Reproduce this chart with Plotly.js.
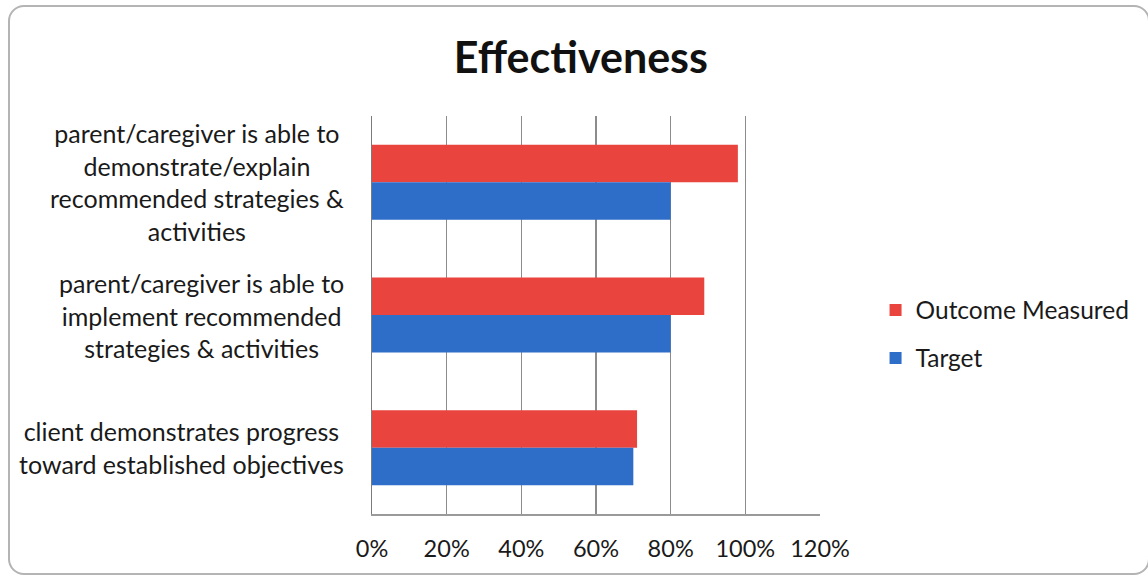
<!DOCTYPE html>
<html>
<head>
<meta charset="utf-8">
<script src="https://cdn.plot.ly/plotly-3.0.1.min.js"></script>
<style>
  html, body { margin: 0; padding: 0; background: #ffffff; }
  #chart { width: 1148px; height: 577px; }
  #frame {
    position: absolute; left: 8px; top: 5px; width: 1138px; height: 566px;
    border: 2px solid #b4b4b4; border-radius: 16px; pointer-events: none;
  }
</style>
</head>
<body>
<div id="chart"></div>
<div id="frame"></div>
<script>
// Survey categories, listed top to bottom
const categories = [
  "parent/caregiver is able to<br>demonstrate/explain<br>recommended strategies &amp;<br>activities",
  "parent/caregiver is able to<br>implement recommended<br>strategies &amp; activities",
  "client demonstrates progress<br>toward established objectives"
];
const outcomeMeasured = [0.98, 0.89, 0.71];
const target = [0.80, 0.80, 0.70];
const xTicks = [0, 0.2, 0.4, 0.6, 0.8, 1.0, 1.2];

const FONT = "Lato, 'Open Sans', sans-serif";

const traces = [
  {
    type: "bar", orientation: "h", name: "Outcome Measured",
    y: categories, x: outcomeMeasured,
    marker: { color: "#E9443E" }, legend: "legend", hoverinfo: "x"
  },
  {
    type: "bar", orientation: "h", name: "Target",
    y: categories, x: target,
    marker: { color: "#2E6DC8" }, legend: "legend2", hoverinfo: "x"
  }
];

// Category labels: each block centred line by line, right edge next to the axis
const labelAnnotations = categories.map(c => ({
  xref: "paper", yref: "y", x: -0.058, y: c,
  xanchor: "right", yanchor: "middle", align: "center",
  text: c, showarrow: false,
  font: { family: FONT, size: 25, color: "#1a1a1a" }
}));

const legendStyle = {
  font: { family: FONT, size: 24.5, color: "#1a1a1a" },
  xanchor: "left", yanchor: "middle", bgcolor: "rgba(0,0,0,0)"
};

const layout = {
  width: 1148, height: 577,
  margin: { l: 372, r: 328, t: 116, b: 63 },
  paper_bgcolor: "#ffffff", plot_bgcolor: "#ffffff",
  title: {
    text: "<b>Effectiveness</b>",
    font: { family: FONT, size: 43, color: "#111111" },
    xref: "container", x: 0.506, xanchor: "center",
    yref: "container", y: 0.900, yanchor: "middle"
  },
  barmode: "group", bargap: 0.435, bargroupgap: 0,
  xaxis: {
    range: [0, 1.2], tickvals: xTicks, tickformat: ".0%",
    showgrid: true, gridcolor: "#8c8c8c", gridwidth: 1.5,
    zeroline: false, showline: true, linecolor: "#9a9a9a", linewidth: 1.5,
    ticks: "", tickfont: { family: FONT, size: 23.5, color: "#1a1a1a" },
    ticklabelstandoff: 13, fixedrange: true
  },
  yaxis: {
    type: "category", autorange: "reversed",
    showticklabels: false, showgrid: false, zeroline: false,
    showline: true, linecolor: "#7a7a7a", linewidth: 1.5, ticks: "",
    fixedrange: true
  },
  showlegend: true,
  legend: Object.assign({ x: 1.124, y: 0.5126 }, legendStyle),
  legend2: Object.assign({ x: 1.124, y: 0.392 }, legendStyle),
  annotations: labelAnnotations
};

Plotly.newPlot("chart", traces, layout, { displayModeBar: false, staticPlot: true });
</script>
</body>
</html>
